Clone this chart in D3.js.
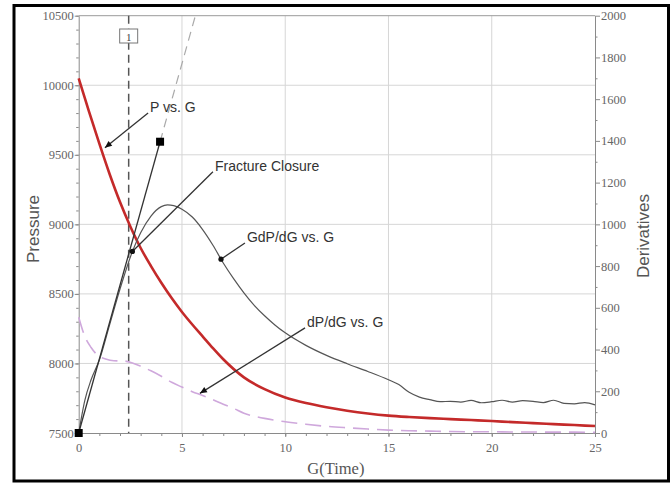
<!DOCTYPE html>
<html><head><meta charset="utf-8">
<script src="https://cdn.jsdelivr.net/npm/d3@7"></script>
<style>body{margin:0;background:#fff}svg{display:block}</style>
</head><body>
<svg id="c" width="672" height="483"></svg>
<script>
// ---- data ----
const gP = [0,0.5,1,1.5,2,2.5,3,3.5,4,4.5,5,5.5,6,6.5,7,8,9,10,11,12,13,14,15,16,17,18,19,20,21,22,23,24,25];
const pressure = [10050,9810,9580,9360,9160,8985,8830,8700,8580,8470,8370,8280,8195,8110,8030,7900,7815,7755,7715,7685,7660,7640,7625,7615,7607,7600,7593,7586,7578,7571,7564,7557,7550];

const gD = [0,0.3,0.6,1,1.5,2,2.6,3,3.5,4,4.3,4.6,5,5.5,6,6.5,7,7.5,8,8.5,9,9.5,10,11,12,13,14,15,15.5,16,16.5,17,17.5,18,18.5,19,19.5,20,20.5,21,21.5,22,22.5,23,23.5,24,24.5,25];
const gdpdg = [0,158,255,350,520,690,870,960,1040,1085,1093,1090,1072,1035,975,900,815,740,672,612,562,518,480,420,372,332,295,255,232,195,172,160,150,152,148,156,145,150,157,148,155,152,146,157,142,140,146,135];

const gd = [0,0.3,0.6,0.9,1.3,1.7,2.2,2.6,3,3.5,4,4.5,5,5.5,6,6.5,7,7.5,8,9,10,11,12,13,14,15,16,17,18,19,20,21,22,23,24,25];
const dpdg = [555,462,410,374,355,346,345,335,320,298,272,243,220,198,180,160,138,118,95,70,54,42,32,25,19,14,11,9,7,6,6,5,5,4,4,3];

const tangentG = [0, 3.94];
const tangentD = [0, 1396];
const extensionG = [3.94, 5.65];
const extensionD = [1396, 2000];
const closureG = 2.42;
const closureLabel = "1";

const xTicks = [0,5,10,15,20,25];
const leftTicks = [7500,8000,8500,9000,9500,10000,10500];
const rightTicks = [0,200,400,600,800,1000,1200,1400,1600,1800,2000];

const annotations = [
  {text:"P vs. G", axis:"L", tip:[1.27,9550], from:[3.36,9800], head:"arrow"},
  {text:"Fracture Closure", axis:"R", tip:[2.6,870], from:[6.5,1252], head:"dot"},
  {text:"GdP/dG vs. G", axis:"R", tip:[6.89,833], from:[8.05,911], head:"dot"},
  {text:"dP/dG vs. G", axis:"R", tip:[5.87,190], from:[10.96,504], head:"arrow"}
];

// ---- layout ----
const svg = d3.select("#c");
const x = d3.scaleLinear([0,25],[78.7,595]);
const yL = d3.scaleLinear([7500,10500],[433,15.7]);
const yR = d3.scaleLinear([0,2000],[433,15.7]);
const serif = "'Liberation Serif','DejaVu Serif',serif";
const sans = "'Liberation Sans',Arial,sans-serif";
const fmt = d3.format("d");

// outer frame
svg.append("rect").attr("x",14).attr("y",5.5).attr("width",654.5).attr("height",475.5)
  .attr("fill","none").attr("stroke","#000").attr("stroke-width",3);

// gridlines
const grid = svg.append("g").attr("stroke","#d6d6d6").attr("stroke-width",1);
xTicks.slice(1,-1).forEach(t=>grid.append("line").attr("x1",x(t)).attr("x2",x(t)).attr("y1",yL(10500)).attr("y2",yL(7500)));
leftTicks.slice(1,-1).forEach(t=>grid.append("line").attr("x1",x(0)).attr("x2",x(25)).attr("y1",yL(t)).attr("y2",yL(t)));
// top frame line
svg.append("line").attr("x1",x(0)).attr("x2",x(25)).attr("y1",yL(10500)).attr("y2",yL(10500)).attr("stroke","#9a9a9a");

function styleAxis(g){
  g.select(".domain").attr("stroke","#8a8a8a");
  g.selectAll(".tick line").attr("stroke","#8a8a8a");
  g.selectAll("text").attr("fill","#666").style("font-family",serif).style("font-size","12.5px");
}
// minor ticks
svg.append("g").attr("transform",`translate(0,${yL(7500)})`)
  .call(d3.axisBottom(x).tickValues(d3.range(0,26,1)).tickSize(3).tickFormat(""))
  .call(g=>{g.select(".domain").remove();g.selectAll("line").attr("stroke","#8a8a8a");});
svg.append("g").attr("transform",`translate(${x(0)},0)`)
  .call(d3.axisLeft(yL).tickValues(d3.range(7500,10501,100)).tickSize(2.5).tickFormat(""))
  .call(g=>{g.select(".domain").remove();g.selectAll("line").attr("stroke","#8a8a8a");});
svg.append("g").attr("transform",`translate(${x(25)},0)`)
  .call(d3.axisRight(yR).tickValues(d3.range(100,2000,200)).tickSize(2.5).tickFormat(""))
  .call(g=>{g.select(".domain").remove();g.selectAll("line").attr("stroke","#8a8a8a");});

svg.append("g").attr("transform",`translate(0,${yL(7500)})`)
  .call(d3.axisBottom(x).tickValues(xTicks).tickFormat(fmt).tickSize(4).tickSizeOuter(0).tickPadding(6)).call(styleAxis);
svg.append("g").attr("transform",`translate(${x(0)},0)`)
  .call(d3.axisLeft(yL).tickValues(leftTicks).tickFormat(fmt).tickSize(4).tickSizeOuter(0).tickPadding(1)).call(styleAxis);
svg.append("g").attr("transform",`translate(${x(25)},0)`)
  .call(d3.axisRight(yR).tickValues(rightTicks).tickFormat(fmt).tickSize(5).tickSizeOuter(0).tickPadding(1)).call(styleAxis);

// axis titles
svg.append("text").attr("transform",`translate(39,229) rotate(-90)`).attr("text-anchor","middle")
  .style("font-family",sans).style("font-size","17px").attr("fill","#555").text("Pressure");
svg.append("text").attr("transform",`translate(649,236) rotate(-90)`).attr("text-anchor","middle")
  .style("font-family",sans).style("font-size","17px").attr("fill","#555").text("Derivatives");
svg.append("text").attr("x",x(12.5)-1).attr("y",474).attr("text-anchor","middle")
  .style("font-family",serif).style("font-size","16.5px").attr("fill","#555").text("G(Time)");

// closure vertical line + label box
svg.append("line").attr("x1",x(closureG)).attr("x2",x(closureG)).attr("y1",yL(10500)).attr("y2",yL(7500))
  .attr("stroke","#555").attr("stroke-width",1.5).attr("stroke-dasharray","8,5");
svg.append("rect").attr("x",x(closureG)-9).attr("y",29).attr("width",18).attr("height",14)
  .attr("fill","#fff").attr("stroke","#777");
svg.append("text").attr("x",x(closureG)).attr("y",40.5).attr("text-anchor","middle")
  .style("font-family",serif).style("font-size","11px").attr("fill","#444").text(closureLabel);

// curves
const lineL = d3.line().x(d=>x(d[0])).y(d=>yL(d[1])).curve(d3.curveMonotoneX);
const lineR = d3.line().x(d=>x(d[0])).y(d=>yR(d[1])).curve(d3.curveMonotoneX);
const lineRs = d3.line().x(d=>x(d[0])).y(d=>yR(d[1]));

svg.append("path").attr("d",lineR(d3.zip(gd,dpdg))).attr("fill","none")
  .attr("stroke","#cfa8dc").attr("stroke-width",1.6).attr("stroke-dasharray","16,8");
svg.append("path").attr("d",lineRs(d3.zip(extensionG,extensionD))).attr("fill","none")
  .attr("stroke","#aaa").attr("stroke-width",1.2).attr("stroke-dasharray","9,6");
svg.append("path").attr("d",lineL(d3.zip(gP,pressure))).attr("fill","none")
  .attr("stroke","#c42a2a").attr("stroke-width",2.6);
svg.append("path").attr("d",lineR(d3.zip(gD,gdpdg))).attr("fill","none")
  .attr("stroke","#555").attr("stroke-width",1.2);
svg.append("path").attr("d",lineRs(d3.zip(tangentG,tangentD))).attr("fill","none")
  .attr("stroke","#333").attr("stroke-width",1.3);
svg.selectAll("rect.mk").data(d3.zip(tangentG,tangentD)).join("rect").attr("class","mk")
  .attr("x",d=>x(d[0])-4).attr("y",d=>yR(d[1])-4).attr("width",8).attr("height",8).attr("fill","#000");

// annotations
annotations.forEach(a=>{
  const ys = a.axis==="L"?yL:yR;
  const x1=x(a.from[0]), y1=ys(a.from[1]), x2=x(a.tip[0]), y2=ys(a.tip[1]);
  svg.append("line").attr("x1",x1).attr("y1",y1).attr("x2",x2).attr("y2",y2)
    .attr("stroke","#333").attr("stroke-width",1.3);
  if(a.head==="dot"){
    svg.append("circle").attr("cx",x2).attr("cy",y2).attr("r",2.6).attr("fill","#111");
  } else {
    const ang=Math.atan2(y2-y1,x2-x1), L=7, W=3;
    const bx=x2-L*Math.cos(ang), by=y2-L*Math.sin(ang);
    const px=-Math.sin(ang)*W, py=Math.cos(ang)*W;
    svg.append("path").attr("d",`M${x2},${y2}L${bx+px},${by+py}L${bx-px},${by-py}Z`).attr("fill","#111");
  }
  svg.append("text").attr("x",x1+2).attr("y",y1-1).style("font-family",sans).style("font-size","14px")
    .attr("fill","#333").text(a.text);
});
</script>
</body></html>
